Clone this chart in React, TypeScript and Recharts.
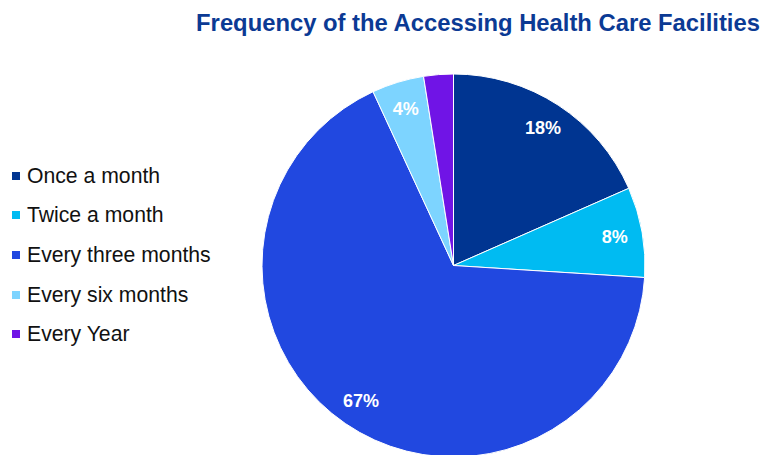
import React from "react";
import { PieChart, Pie, Cell, Legend } from "recharts";

const categories = ["Once a month", "Twice a month", "Every three months", "Every six months", "Every Year"];
const shares = [18.4, 7.6, 67.1, 4.4, 2.5];
const colors = ["#003591", "#00BBF2", "#2148E0", "#7DD4FF", "#7014E6"];
const chartTitle = "Frequency of the Accessing Health Care Facilities";

const data = categories.map((name, i) => ({ name, value: shares[i] }));

const RAD = Math.PI / 180;

const renderLabel = (props: any) => {
  const { cx, cy, midAngle, outerRadius, value, index } = props;
  if (index === 4) return null;
  const r = outerRadius * 0.855;
  const x = cx + r * Math.cos(-midAngle * RAD);
  const y = cy + r * Math.sin(-midAngle * RAD);
  return (
    <text
      x={x}
      y={y}
      fill="#FFFFFF"
      textAnchor="middle"
      dominantBaseline="central"
      fontFamily="'Liberation Sans', Arial, sans-serif"
      fontWeight="bold"
      fontSize={18}
    >
      {`${Math.round(value)}%`}
    </text>
  );
};

const renderLegend = () => (
  <div style={{ fontFamily: "'Liberation Sans', Arial, sans-serif" }}>
    {categories.map((c, i) => (
      <div key={c} style={{ display: "flex", alignItems: "center", height: 39.6 }}>
        <span style={{ display: "inline-block", width: 8, height: 8, background: colors[i], marginRight: 7 }} />
        <span style={{ fontSize: 21.2, color: "#111", lineHeight: "20px" }}>{c}</span>
      </div>
    ))}
  </div>
);

export default function App() {
  return (
    <div style={{ position: "absolute", left: 0, top: 0, width: 762, height: 455, background: "#fff", overflow: "hidden" }}>
      <div
        style={{
          position: "absolute",
          left: 0,
          width: 956,
          top: 9,
          textAlign: "center",
          fontFamily: "'Liberation Sans', Arial, sans-serif",
          fontWeight: "bold",
          fontSize: 23.8,
          color: "#0B3A94",
          whiteSpace: "nowrap",
        }}
      >
        {chartTitle}
      </div>
      <PieChart
        width={762}
        height={455}
        margin={{ top: 0, right: 0, bottom: 0, left: 0 }}
        style={{ position: "absolute", left: 0, top: 0 }}
      >
        <Pie
          data={data}
          dataKey="value"
          nameKey="name"
          cx={453.5}
          cy={265.5}
          outerRadius={191.5}
          innerRadius={0}
          startAngle={90}
          endAngle={-270}
          stroke="#FFFFFF"
          strokeWidth={1}
          label={renderLabel}
          labelLine={false}
          isAnimationActive={false}
        >
          {data.map((d, i) => (
            <Cell key={d.name} fill={colors[i]} />
          ))}
        </Pie>
        <Legend
          layout="vertical"
          content={renderLegend}
          wrapperStyle={{ position: "absolute", left: 12, top: 156, width: 240 }}
        />
      </PieChart>
    </div>
  );
}
